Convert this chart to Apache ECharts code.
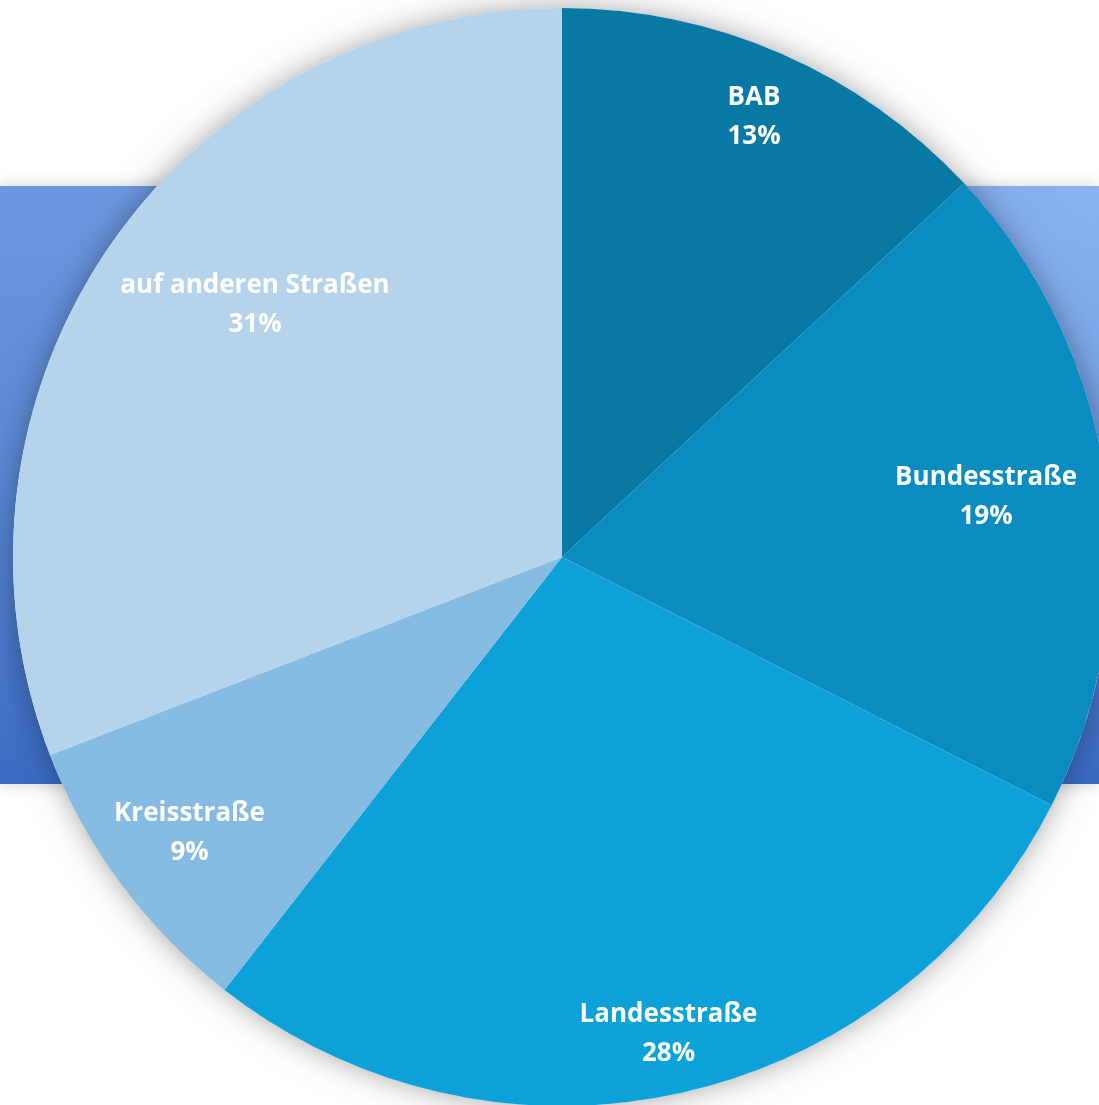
<!DOCTYPE html>
<html>
<head>
<meta charset="utf-8">
<script src="https://cdn.jsdelivr.net/npm/echarts@6/dist/echarts.min.js"></script>
<style>
html,body{margin:0;padding:0;background:#fff;}
#chart{width:1099px;height:1105px;}
</style>
</head>
<body>
<div id="chart"></div>
<script>
// Data
var categories = ['BAB', 'Bundesstraße', 'Landesstraße', 'Kreisstraße', 'auf anderen Straßen'];
var values = [13.1, 19.4, 28.1, 8.6, 30.9];
var colors = ['#0878A4', '#0A8CC1', '#0CA1D8', '#86BCE1', '#B5D3EA'];
// label placement (Excel best-fit): distance as fraction of radius, angular shift in degrees
var labelRadius = [0.875, 0.78, 0.89, 0.845, 0.723];
var labelShift = [0, 0, 0, 0, 4.9];

var chart = echarts.init(document.getElementById('chart'), null, {renderer: 'canvas'});
var CX = 562, CY = 557, R = 549;

var total = values.reduce(function (a, b) { return a + b; }, 0);
var mids = [];
(function () {
  var acc = 0;
  for (var i = 0; i < values.length; i++) {
    mids.push((acc + values[i] / 2) / total * Math.PI * 2 + labelShift[i] * Math.PI / 180);
    acc += values[i];
  }
})();

var option = {
  backgroundColor: '#ffffff',
  animation: false,
  graphic: [{
    type: 'rect',
    z: -10,
    shape: {x: 0, y: 186, width: 1099, height: 598},
    style: {
      fill: new echarts.graphic.LinearGradient(0, 0, 0, 1, [
        {offset: 0, color: '#6C97E0'},
        {offset: 0.5, color: '#5A88D6'},
        {offset: 1, color: '#3A6BC2'}
      ]),
      shadowBlur: 14,
      shadowColor: 'rgba(0,0,0,0.18)'
    },
    silent: true
  }, {
    type: 'rect',
    z: -9,
    shape: {x: 0, y: 186, width: 1099, height: 598},
    style: {
      fill: new echarts.graphic.RadialGradient(1, 0, 0.9, [
        {offset: 0, color: 'rgba(150,188,246,0.75)'},
        {offset: 1, color: 'rgba(150,188,246,0)'}
      ])
    },
    silent: true
  }],
  series: [
    {
      type: 'pie',
      silent: true,
      center: [CX, CY],
      radius: R,
      startAngle: 90,
      z: 1,
      label: {show: false},
      labelLine: {show: false},
      itemStyle: {
        color: '#ffffff',
        shadowBlur: 30,
        shadowColor: 'rgba(0,0,0,0.35)'
      },
      data: [{value: 1, name: ''}]
    },
    {
      type: 'pie',
      center: [CX, CY],
      radius: R,
      startAngle: 90,
      clockwise: true,
      z: 2,
      avoidLabelOverlap: false,
      itemStyle: {borderWidth: 0},
      label: {
        show: true,
        position: 'inside',
        color: '#ffffff',
        fontFamily: '"Open Sans", sans-serif',
        fontWeight: 'bold',
        fontSize: 26,
        lineHeight: 39,
        align: 'center',
        formatter: function (p) {
          return p.name + '\n' + Math.round(p.percent) + '%';
        }
      },
      labelLine: {show: false},
      labelLayout: function (p) {
        var i = p.dataIndex;
        var a = mids[i];
        var r = R * labelRadius[i];
        return {
          x: CX + r * Math.sin(a),
          y: CY - r * Math.cos(a),
          align: 'center',
          verticalAlign: 'middle'
        };
      },
      data: categories.map(function (c, i) {
        return {name: c, value: values[i], itemStyle: {color: colors[i]}};
      })
    }
  ]
};
chart.setOption(option);
</script>
</body>
</html>
